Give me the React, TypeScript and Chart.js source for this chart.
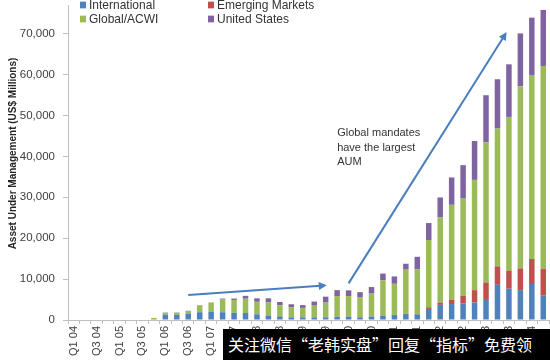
import React, { useEffect, useRef } from 'react';
import { Chart, registerables } from 'chart.js';

Chart.register(...registerables);

const quarters = [
  'Q1 04', 'Q2 04', 'Q3 04', 'Q4 04', 'Q1 05', 'Q2 05', 'Q3 05', 'Q4 05',
  'Q1 06', 'Q2 06', 'Q3 06', 'Q4 06', 'Q1 07', 'Q2 07', 'Q3 07', 'Q4 07',
  'Q1 08', 'Q2 08', 'Q3 08', 'Q4 08', 'Q1 09', 'Q2 09', 'Q3 09', 'Q4 09',
  'Q1 10', 'Q2 10', 'Q3 10', 'Q4 10', 'Q1 11', 'Q2 11', 'Q3 11', 'Q4 11',
  'Q1 12', 'Q2 12', 'Q3 12', 'Q4 12', 'Q1 13', 'Q2 13', 'Q3 13', 'Q4 13',
  'Q1 14', 'Q2 14',
];

const international = [
  0, 0, 0, 0, 0, 0, 0, 200,
  1300, 1250, 1600, 1900, 2050, 1900, 1750, 1700,
  1400, 1100, 900, 650, 650, 650, 650, 800,
  800, 650, 800, 1050, 1200, 1450, 1300, 2700,
  3700, 3900, 4050, 4300, 4900, 8600, 7650, 7300,
  8800, 5950,
];

const emergingMarkets = [
  0, 0, 0, 0, 0, 0, 0, 0,
  0, 0, 0, 0, 0, 0, 0, 0,
  0, 0, 0, 0, 0, 0, 50, 50,
  50, 50, 50, 50, 50, 100, 150, 400,
  550, 1050, 1850, 3000, 4300, 4500, 4400, 5300,
  6100, 6500,
];

const globalAcwi = [
  0, 0, 0, 0, 0, 0, 0, 300,
  500, 550, 600, 1700, 2200, 3100, 3150, 3500,
  3050, 3200, 2700, 2400, 2300, 2850, 3550, 5000,
  5000, 4900, 5750, 8600, 7600, 10750, 10900, 16450,
  20800, 23200, 23750, 26950, 34200, 33700, 37600, 44500,
  45000, 49650,
];

const unitedStates = [
  0, 0, 0, 0, 0, 0, 0, 0,
  50, 50, 50, 50, 50, 250, 350, 700,
  850, 1000, 800, 800, 700, 1000, 1450, 1450,
  1400, 1200, 1450, 1650, 1800, 1450, 3100, 4150,
  4900, 6700, 8200, 9500, 11550, 12050, 12850, 12950,
  14000, 13700,
];

const seriesNames = ['International', 'Emerging Markets', 'Global/ACWI', 'United States'];
const seriesColors = ['#4f81bd', '#c0504d', '#9bbb59', '#8064a2'];
const seriesValues = [international, emergingMarkets, globalAcwi, unitedStates];

const yTickValues = [0, 10000, 20000, 30000, 40000, 50000, 60000, 70000];
const yAxisMax = 77000;
const yTitle = 'Asset Under Management (US$ Millions)';

// annotations, anchored in data space (category index, value)
const arrowShort = { from: [10.0, 6100], to: [22.1, 8470] };
const arrowLong = { from: [24.0, 8960], to: [37.8, 70400] };
const noteAnchor = [23.0, 45700];
const noteLines = ['Global mandates', 'have the largest', 'AUM'];

const watermarkText = '关注微信“老韩实盘”回复“指标”免费领';

const FONT = '"Liberation Sans", Arial, sans-serif';

function drawArrow(ctx: CanvasRenderingContext2D, x1: number, y1: number, x2: number, y2: number) {
  const ang = Math.atan2(y2 - y1, x2 - x1);
  const head = 8;
  const half = 4;
  ctx.save();
  ctx.strokeStyle = '#4a7ebf';
  ctx.fillStyle = '#4a7ebf';
  ctx.lineWidth = 2;
  ctx.beginPath();
  ctx.moveTo(x1, y1);
  ctx.lineTo(x2 - Math.cos(ang) * head * 0.8, y2 - Math.sin(ang) * head * 0.8);
  ctx.stroke();
  ctx.beginPath();
  ctx.moveTo(x2, y2);
  ctx.lineTo(
    x2 - Math.cos(ang) * head + Math.sin(ang) * half,
    y2 - Math.sin(ang) * head - Math.cos(ang) * half
  );
  ctx.lineTo(
    x2 - Math.cos(ang) * head - Math.sin(ang) * half,
    y2 - Math.sin(ang) * head + Math.cos(ang) * half
  );
  ctx.closePath();
  ctx.fill();
  ctx.restore();
}

const overlayPlugin = {
  id: 'overlay',
  afterDatasetsDraw(chart: any) {
    const { ctx, scales, chartArea } = chart;
    const xs = scales.x;
    const ys = scales.y;
    const px = (p: number[]) => [xs.getPixelForValue(p[0]), ys.getPixelForValue(p[1])];

    const a1 = [px(arrowShort.from), px(arrowShort.to)];
    drawArrow(ctx, a1[0][0], a1[0][1], a1[1][0], a1[1][1]);
    const a2 = [px(arrowLong.from), px(arrowLong.to)];
    drawArrow(ctx, a2[0][0], a2[0][1], a2[1][0], a2[1][1]);

    const [nx, ny] = px(noteAnchor);
    ctx.save();
    ctx.font = `11px ${FONT}`;
    ctx.fillStyle = '#333333';
    ctx.textAlign = 'left';
    ctx.textBaseline = 'middle';
    noteLines.forEach((line, i) => ctx.fillText(line, nx, ny + i * 14.5));
    ctx.restore();

    // y axis title
    ctx.save();
    ctx.font = `bold 10px ${FONT}`;
    ctx.fillStyle = '#262626';
    ctx.textAlign = 'center';
    ctx.textBaseline = 'middle';
    ctx.translate(13, (chartArea.top + chartArea.bottom) / 2 - 9);
    ctx.rotate(-Math.PI / 2);
    ctx.fillText(yTitle, 0, 0);
    ctx.restore();
  },
};

export default function App() {
  const canvasRef = useRef<HTMLCanvasElement | null>(null);

  useEffect(() => {
    const canvas = canvasRef.current;
    if (!canvas) return;
    const chart = new Chart(canvas, {
      type: 'bar',
      data: {
        labels: quarters,
        datasets: seriesNames.map((name, i) => ({
          label: name,
          data: seriesValues[i],
          backgroundColor: seriesColors[i],
          borderWidth: 0,
          barPercentage: 0.48,
          categoryPercentage: 1,
        })),
      },
      options: {
        animation: false,
        responsive: false,
        maintainAspectRatio: false,
        layout: { padding: { top: 5, right: 1, left: 0, bottom: 0 } },
        plugins: {
          legend: { display: false },
          tooltip: { enabled: false },
          title: { display: false },
        },
        scales: {
          x: {
            stacked: true,
            offset: true,
            grid: {
              offset: true,
              drawOnChartArea: false,
              drawTicks: true,
              tickLength: 4,
              color: '#bfbfbf',
            },
            border: { color: '#bfbfbf', width: 1 },
            ticks: {
              autoSkip: false,
              maxRotation: 90,
              minRotation: 90,
              padding: 2,
              color: '#404040',
              font: { family: FONT, size: 11 },
              callback: (_v: any, idx: number) => (idx % 2 === 0 ? quarters[idx] : ''),
            },
            afterFit: (scale: any) => {
              scale.height = 40;
              scale.paddingLeft = 0;
              scale.paddingRight = 0;
            },
          },
          y: {
            stacked: true,
            min: 0,
            max: yAxisMax,
            grid: {
              drawOnChartArea: false,
              drawTicks: true,
              tickLength: 5,
              color: '#bfbfbf',
            },
            border: { color: '#bfbfbf', width: 1 },
            afterBuildTicks: (scale: any) => {
              scale.ticks = yTickValues.map((v) => ({ value: v }));
            },
            ticks: {
              padding: 8,
              color: '#404040',
              font: { family: FONT, size: 11.5 },
              callback: (v: any) => Number(v).toLocaleString('en-US'),
            },
            afterFit: (scale: any) => {
              scale.width = 68;
              scale.paddingTop = 0;
              scale.paddingBottom = 0;
            },
          },
        },
      },
      plugins: [overlayPlugin],
    });
    return () => chart.destroy();
  }, []);

  const legendPos = [
    { left: 80, top: 0 },
    { left: 208, top: 0 },
    { left: 80, top: 14 },
    { left: 208, top: 14 },
  ];

  return (
    <div
      style={{
        position: 'fixed',
        left: 0,
        top: 0,
        width: 550,
        height: 360,
        background: '#ffffff',
        overflow: 'hidden',
      }}
    >
      <canvas ref={canvasRef} width={550} height={360} style={{ width: 550, height: 360, display: 'block' }} />
      {seriesNames.map((name, i) => (
        <div
          key={name}
          style={{
            position: 'absolute',
            left: legendPos[i].left,
            top: legendPos[i].top - 4,
            height: 18,
            display: 'flex',
            alignItems: 'center',
            fontFamily: FONT,
            fontSize: 12,
            color: '#333333',
            whiteSpace: 'nowrap',
            transform: 'scaleY(1.12)',
          }}
        >
          <span
            style={{
              display: 'inline-block',
              width: 6,
              height: 6,
              background: seriesColors[i],
              marginRight: 3,
            }}
          />
          {name}
        </div>
      ))}
      <div
        style={{
          position: 'absolute',
          left: 223,
          top: 329,
          width: 327,
          height: 31,
          background: '#000000',
          color: '#ffffff',
          fontFamily: '"Noto Sans CJK SC", sans-serif',
          fontSize: 16,
          lineHeight: '31px',
          paddingLeft: 5,
          boxSizing: 'border-box',
          whiteSpace: 'nowrap',
        }}
      >
        {watermarkText}
      </div>
    </div>
  );
}
